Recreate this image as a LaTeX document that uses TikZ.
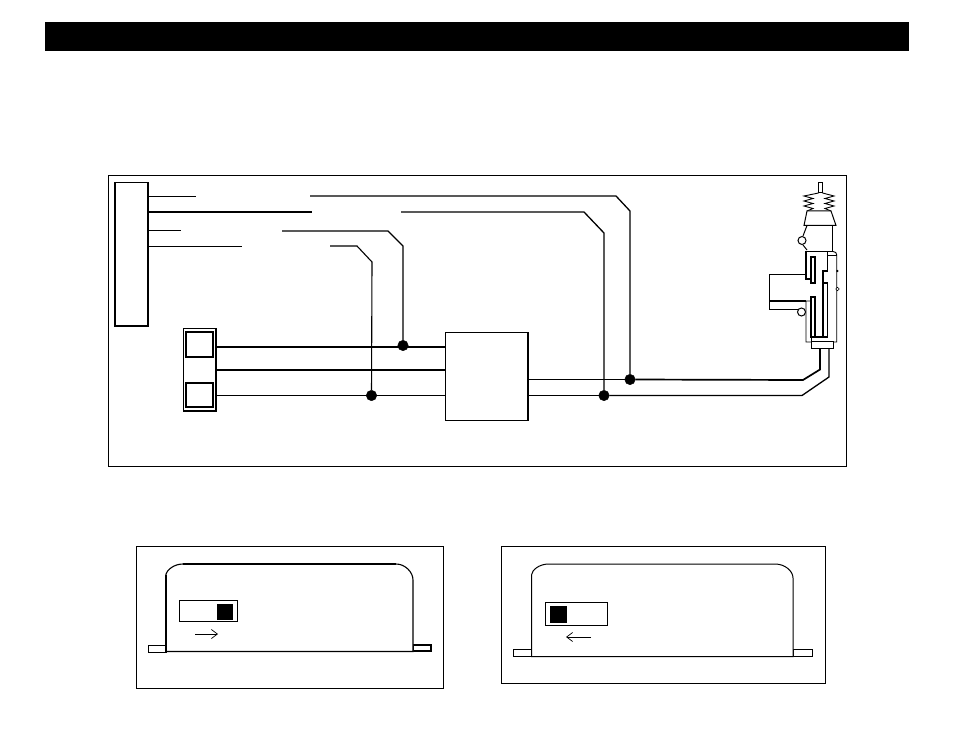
\documentclass[tikz,border=0pt]{standalone}
\usetikzlibrary{arrows.meta}
\tikzset{
  thin wire/.style={line width=0.9pt,line join=miter},
  thick wire/.style={line width=1.7pt,line join=miter},
  part/.style={draw,line width=1pt,fill=white,inner sep=0pt,outer sep=0pt},
  dot/.style={circle,fill=black,draw=black,inner sep=0pt,minimum size=10.5pt},
  pivot/.style={circle,draw,fill=white,line width=1pt,inner sep=0pt,minimum size=8pt},
  knob/.style={fill=black,inner sep=0pt,outer sep=0pt},
  open arrow/.style={line width=0.7pt,-{Straight Barb[length=6pt,width=9pt,line width=0.7pt]}},
  spring/.style={line width=0.9pt},
}
\newcommand{\boxat}[6][part]{\node[#1,minimum width=#4-#3,minimum height=#6-#5] (#2) at ({(#3+#4)/2},{(#5+#6)/2}) {};}
\begin{document}
\begin{tikzpicture}[x=1pt,y=-1pt]
\useasboundingbox (0,0) rectangle (954,738);
\fill[white] (0,0) rectangle (954,738);
% header bar
\boxat[knob]{bar}{45}{909}{22}{51}
% frames
\boxat{frameA}{108.5}{846.5}{176}{466}
\boxat{frameB}{136.5}{443.5}{546}{688}
\boxat{frameC}{501.5}{825.5}{546}{683}
% relay strip
\boxat[part,line width=1.2pt]{strip}{115}{148}{182.5}{326}
\draw[line width=1.8pt] (115,182.5) -- (115,326);
% switch block
\boxat{sw}{183.5}{216}{329}{411}
\draw[line width=1.6pt] (216,329) -- (216,411) -- (183.5,411);
\boxat[part,line width=1.2pt]{swa}{186}{213}{332}{357}
\boxat[part,line width=1.2pt]{swb}{186}{213}{383}{407}
% control module
\boxat{mod}{445}{528}{332.5}{420.5}
\draw[line width=1.4pt] (528,332.5) -- (528,420.5);
% junction dots
\node[dot] (j1) at (403,345.5) {};
\node[dot] (j2) at (371.5,395.5) {};
\node[dot] (j3) at (630,379.5) {};
\node[dot] (j4) at (604,395.5) {};
% free wire ends
\coordinate (a1) at (196,196); \coordinate (a2) at (310,196);
\coordinate (b1) at (312,212); \coordinate (b2) at (401,212);
\coordinate (c1) at (181,230.5); \coordinate (c2) at (282,231);
\coordinate (d1) at (242,246); \coordinate (d2) at (330,246);
% wires from the strip
\draw[thin wire] (strip.east |- a1) -- (a1);
\draw[thick wire] (strip.east |- b1) -- (b1);
\draw[thin wire] (strip.east |- c1) -- (c1);
\draw[thin wire] (strip.east |- d1) -- (d1);
\draw[thin wire,line width=1.3pt] (a2) -- (616,196) -- (630,211) -- (j3);
\draw[thin wire,line width=1.3pt] (b2) -- (584,212) -- (604,233) -- (j4);
\draw[thin wire,line width=1.3pt] (c2) -- (388,231) -- (403,246) -- (j1);
\draw[thin wire,line width=1.1pt] (d2) -- (357,246) -- (372,262) -- (j2);
% switch to module
\draw[thick wire] (sw.east |- 0,347) -- (mod.west |- 0,347);
\draw[thick wire] (sw.east |- 0,370) -- (mod.west |- 0,370);
\draw[thin wire] (sw.east |- 0,395.5) -- (mod.west |- 0,395.5);
% actuator: rod, bellows, cap
\draw[part,line width=1pt] (818.5,183) rectangle (822.5,193);
\draw[spring] (818.5,193) -- (804,196) -- (813,198.5) -- (804,201) -- (813,203.5) -- (804,206) -- (813,208.5) -- (807,211);
\draw[spring] (822.5,193) -- (834,196) -- (825,198.5) -- (834,201) -- (825,203.5) -- (834,206) -- (825,208.5) -- (831,211);
\draw[line width=1pt,fill=white] (807,211) -- (831,211) -- (836,225.5) -- (804,225.5) -- cycle;
\draw[line width=1pt] (807,225.5) -- (803,236) (803,245) -- (807,250);
\draw[line width=1pt] (832,225.5) -- (832,251.5);
\node[pivot] (p1) at (802,240.5) {};
% actuator lug
\draw[line width=0.8pt] (806,274) -- (769.5,274) -- (769.5,309) -- (798,309);
\draw[line width=1.2pt] (769.5,301) -- (806,301);
\node[pivot] (p2) at (801.5,312) {};
% actuator body
\draw[line width=1.2pt] (811,279) -- (806,279) -- (806,251.5) -- (833,251.5);
\draw[line width=0.9pt] (833,251.5) .. controls (835.5,251.5) and (836.7,253) .. (836.7,255) -- (836.7,342) -- (806,342) -- (806,301) -- (811,301);
\draw[line width=1.2pt] (811,257) rectangle (815,283);
\draw[line width=1.2pt] (811,297) rectangle (815,337);
\draw[line width=1.2pt] (827.5,252) -- (827.5,271) -- (823,271) -- (823,337);
\draw[line width=1.2pt] (823,283) -- (827.5,283) -- (827.5,337);
\draw[line width=1.2pt] (811,337) -- (827.5,337);
\draw[line width=0.7pt] (827.5,255) -- (836.7,255);
\fill (837.3,271) circle (1.2pt);
\draw[line width=0.6pt,fill=white] (837.5,289) circle (1.7pt);
\boxat[part,line width=1pt]{act}{811}{833}{342}{349}
\draw[line width=1pt] (811,337) -- (811,342);
% wires to actuator
\draw[thin wire] (mod.east |- j3) -- (j3);
\draw[thick wire] (j3) -- (803,380) -- (820,369.5) -- (820,349);
\draw[thin wire] (mod.east |- j4) -- (j4);
\draw[thin wire,line width=1.3pt] (j4) -- (802,395.5) -- (829,377) -- (829,349);
% lower-left housing
\boxat[part,line width=0.9pt]{tabL}{148}{166}{645}{652}
\boxat[part,line width=1.4pt]{tabR}{413}{431}{645}{651}
\draw[line width=1.1pt,fill=white] (166,651.5) -- (166,574) .. controls (167,570) and (174,564) .. (183,564) -- (396,564) .. controls (405,564) and (413,572) .. (413,580) -- (413,651.5) -- cycle;
\draw[line width=1.8pt] (183,564) -- (396,564);
\draw[line width=1.6pt] (166,652) -- (166,575);
\boxat[part,line width=0.9pt]{slA}{179.5}{237.5}{600.5}{621.5}
\boxat[knob]{knA}{217}{233}{604}{620}
\coordinate (arA1) at (195,634); \coordinate (arA2) at (218,634);
\draw[open arrow] (arA1) -- (arA2);
% lower-right housing
\boxat[part,line width=0.9pt]{tabM}{513}{531}{649}{656.5}
\boxat[part,line width=0.9pt]{tabN}{793}{812}{649}{656.5}
\draw[line width=1pt,fill=white] (531.5,656.5) -- (531.5,575) .. controls (532,570) and (539,564) .. (549,564) -- (775,564) .. controls (785,564) and (793,571) .. (793,578) -- (793,656.5) -- cycle;
\boxat[part,line width=0.9pt]{slB}{545.5}{607.5}{602.5}{625.5}
\boxat[knob]{knB}{550}{567}{606}{623}
\coordinate (arB1) at (591,637); \coordinate (arB2) at (566,637);
\draw[open arrow] (arB1) -- (arB2);
\end{tikzpicture}
\end{document}
